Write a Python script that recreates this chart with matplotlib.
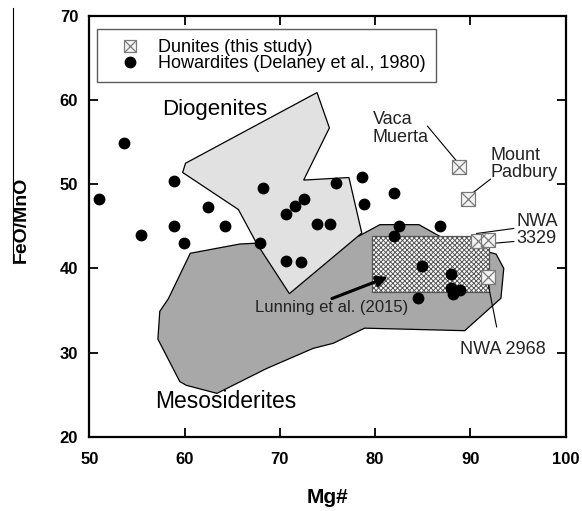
import matplotlib
matplotlib.use('Agg')
import matplotlib.pyplot as plt
from matplotlib.patches import Polygon, Rectangle
from matplotlib.lines import Line2D

plt.rcParams['font.family'] = ['Liberation Sans', 'DejaVu Sans']
plt.rcParams['hatch.linewidth'] = 0.7

# Howardites (Delaney et al., 1980)
how_mg = [51.0, 53.6, 55.4, 58.9, 58.9, 59.9, 62.5, 64.2, 67.9, 68.2,
          70.6, 71.6, 72.5, 70.6, 72.2, 73.9, 75.3, 75.9, 78.6, 78.8,
          82.0, 82.5, 82.0, 86.8, 84.9, 88.0, 88.0, 88.9, 88.2, 84.5]
how_feo = [48.3, 54.9, 44.0, 50.4, 45.0, 43.0, 47.3, 45.0, 43.0, 49.5,
           46.5, 47.4, 48.2, 40.9, 40.8, 45.3, 45.3, 50.1, 50.9, 47.7,
           49.0, 45.0, 43.8, 45.0, 40.3, 39.3, 37.7, 37.4, 37.0, 36.5]

# Dunites (this study)
dun_mg = [88.8, 89.7, 90.75, 91.8, 91.8]
dun_feo = [52.1, 48.2, 43.2, 43.4, 39.0]

# field outlines
dio_mg = [60.1, 73.9, 75.2, 72.5, 77.25, 78.6, 71.0, 67.55, 65.65, 59.8]
dio_feo = [52.5, 60.9, 56.7, 50.5, 50.8, 44.2, 37.0, 43.0, 47.0, 51.4]

meso_mg = [60.6, 65.8, 67.55, 78.3, 80.5, 84.6, 87.6, 92.7, 93.5, 93.2, 89.4,
           78.9, 75.6, 73.5, 68.6, 63.4, 60.2, 59.5, 57.2, 57.4, 58.3]
meso_feo = [41.8, 42.9, 43.0, 43.85, 45.2, 45.2, 43.3, 41.7, 40.0, 36.45, 32.6,
            32.9, 31.1, 30.5, 28.1, 25.15, 26.1, 26.55, 31.6, 34.9, 36.4]

# Lunning et al. (2015) box
lun_mg = [79.7, 92.0]
lun_feo = [37.2, 43.9]

fig = plt.figure(figsize=(5.82, 5.11), dpi=100)
ax = fig.add_axes([0.1534, 0.1454, 0.8186, 0.8233])

ax.add_patch(Polygon(list(zip(meso_mg, meso_feo)), closed=True, facecolor='#a8a8a8',
                     edgecolor='black', lw=0.9, zorder=1))
ax.add_patch(Polygon(list(zip(dio_mg, dio_feo)), closed=True, facecolor='#e1e1e1',
                     edgecolor='black', lw=0.9, zorder=2))
ax.add_patch(Rectangle((lun_mg[0], lun_feo[0]), lun_mg[1] - lun_mg[0], lun_feo[1] - lun_feo[0],
                       facecolor='white', edgecolor='#555555', hatch='xxxxxxx', lw=0.9, zorder=3))

ax.plot(how_mg, how_feo, 'o', color='black', ms=7.5, zorder=5)
ax.plot(dun_mg, dun_feo, 's', mfc='#f4f4f4', mec='#7a7a7a', mew=0.9, ms=10, ls='none', zorder=6)
ax.plot(dun_mg, dun_feo, 'x', mec='#7a7a7a', mew=0.9, ms=10, ls='none', zorder=7)

# region labels
ax.text(57.6, 58.2, 'Diogenites', fontsize=16, va='baseline', ha='left')
ax.text(56.9, 23.4, 'Mesosiderites', fontsize=16.5, va='baseline', ha='left')

# dunite labels with leaders
ax.text(79.75, 56.65, 'Vaca\nMuerta', fontsize=13, va='center', ha='left', color='#222222', linespacing=1.05)
ax.plot([85.5, 88.45], [56.9, 52.9], color='black', lw=0.8, zorder=4)
ax.text(92.1, 52.4, 'Mount\nPadbury', fontsize=13, va='center', ha='left', color='#222222', linespacing=1.05)
ax.plot([92.1, 90.15], [50.6, 48.9], color='black', lw=0.8, zorder=4)
ax.text(94.8, 44.55, 'NWA\n3329', fontsize=13, va='center', ha='left', color='#222222', linespacing=1.05)
ax.plot([94.55, 90.65], [44.75, 44.15], color='black', lw=0.8, zorder=4)
ax.plot([94.55, 92.6], [43.2, 43.0], color='black', lw=0.8, zorder=4)
ax.text(88.9, 30.4, 'NWA 2968', fontsize=13, va='center', ha='left', color='#222222')
ax.plot([91.85, 92.75], [38.2, 33.05], color='black', lw=0.8, zorder=4)

ax.text(67.4, 35.3, 'Lunning et al. (2015)', fontsize=12, va='center', ha='left', color='#222222', zorder=8)
ax.annotate('', xy=(81.6, 39.1), xytext=(75.2, 36.3),
            arrowprops=dict(arrowstyle='-|>', lw=2.2, color='black', mutation_scale=16), zorder=8)

ax.set_xlim(50, 100)
ax.set_ylim(20, 70)
ax.set_xticks(range(50, 101, 10))
ax.set_yticks(range(20, 71, 10))
ax.tick_params(direction='in', top=True, right=True, length=6.5, width=1.3)
ax.tick_params(axis='x', pad=11)
ax.tick_params(axis='y', pad=8)
for lab in ax.get_xticklabels() + ax.get_yticklabels():
    lab.set_fontsize(12)
    lab.set_fontweight('bold')
for s in ax.spines.values():
    s.set_linewidth(1.6)

ax.set_xlabel('Mg#', fontsize=15, fontweight='bold')
ax.xaxis.set_label_coords(0.5, -0.122)
fig.text(21 / 582, 1 - 220 / 511, 'FeO/MnO', rotation=90, fontsize=14, fontweight='bold',
         ha='center', va='center')
fig.add_artist(Line2D([12.7 / 582, 12.7 / 582], [1 - 8 / 511, 1 - 263 / 511], color='black', lw=0.8))

h_dun = (Line2D([], [], marker='s', mfc='#f4f4f4', mec='#7a7a7a', mew=0.9, ms=9, ls='none'),
         Line2D([], [], marker='x', mec='#7a7a7a', mew=0.9, ms=9, ls='none'))
h_how = Line2D([], [], marker='o', color='black', ms=7.5, ls='none')
leg = ax.legend([h_dun, h_how], ['Dunites (this study)', 'Howardites (Delaney et al., 1980)'],
                loc='upper left', bbox_to_anchor=(0.0155, 0.968), borderaxespad=0,
                fontsize=13, frameon=True, fancybox=False, edgecolor='#333333',
                labelspacing=-0.05, handlelength=2.6, handletextpad=0.25, borderpad=0.55)
leg.get_frame().set_linewidth(1.0)
leg.set_zorder(10)

fig.savefig('out.png', dpi=100)
